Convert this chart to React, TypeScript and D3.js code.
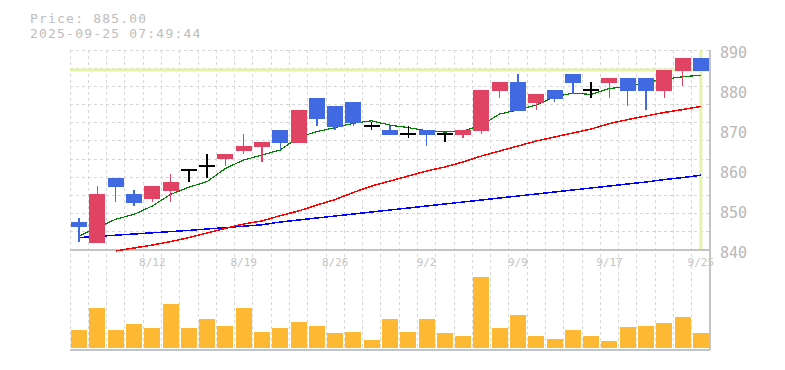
import React from "react";
import * as d3 from "d3";

const dates = ["8/5","8/6","8/7","8/8","8/12","8/13","8/14","8/15","8/18","8/19","8/20","8/21","8/22","8/25","8/26","8/27","8/28","8/29","9/1","9/2","9/3","9/4","9/5","9/8","9/9","9/10","9/11","9/12","9/16","9/17","9/18","9/19","9/22","9/24","9/25"];
const tickDates = ["8/12","8/19","8/26","9/2","9/9","9/17","9/25"];
const priceTicks = [840, 850, 860, 870, 880, 890];

const opens  = [847,842,858,854,853,855,860,861,863,865,866,870,867,878,876,877,871,870,869,870,869,869,870,880,882,877,880,884,880,882,883,883,880,885,888];
const highs  = [848,856,858,855,856,859,860,864,864,869,867,870,875,878,876,877,872,871,871,870,869,870,880,882,884,879,880,884,882,883,883,883,885,888,888];
const lows   = [842,842,852,851,852,852,857,858,861,864,862,865,867,871,870,871,870,869,868,866,867,868,869,878,875,875,877,879,878,878,876,875,878,881,885];
const closes = [846,854,856,852,856,857,860,861,864,866,867,867,875,873,871,872,871,869,869,869,869,870,880,882,875,879,878,882,880,883,880,880,885,888,885];

const ma5  = [843.5,845.6,847.7,848.9,851,853.9,855.7,857.1,860.4,862.5,863.75,865,868.2,869.6,870.6,871.7,872.3,871.2,870.6,869.8,869.5,869.7,871.2,874,875,876.25,878.3,879.2,878.9,880.4,880.8,881.9,882.7,883.3,883.7];
const ma25 = [null,null,839.75,840.5,841.25,842.1,843.1,844.25,845.4,846.5,847.25,848.6,849.75,851.25,852.6,854.4,856,857.25,858.5,859.75,860.75,862,863.5,864.75,866,867.25,868.25,869.25,870.25,871.6,872.6,873.5,874.4,875.1,875.9];
const ma75 = [843.1,843.4,843.7,844,844.3,844.6,844.9,845.25,845.6,845.95,846.3,847,847.5,848,848.5,849,849.5,850,850.5,851,851.5,852,852.5,853,853.5,854,854.5,855,855.5,856,856.5,857,857.6,858.1,858.7];

const volumes = [18,40,18,24.3,20,44,20,29,22,40,16,20,26,22,15,16,8,29,16,29,15,12,71.3,20,33,12,9,18,12,7,21,22,25,31,15];

const lastPrice = 885.0;
const timestamp = "2025-09-25 07:49:44";

const W = 785, H = 370;
const L = 70, R = 710, PT = 50, PB = 250, VB = 348, VT = 268, VAX = 350;

export default function App() {
  const x = d3.scaleBand<string>().domain(dates).range([L, R]).paddingInner(0.125).paddingOuter(0.0625);
  const xc = (d: string) => (x(d) as number) + x.bandwidth() / 2;
  const y = d3.scaleLinear().domain([840, 890]).range([PB, PT]);
  const v = d3.scaleLinear().domain([0, 80]).range([VB, VT]);
  const step = (R - L) / dates.length;
  const bw = x.bandwidth();

  const gridX = d3.range(dates.length + 1).map((i) => L + i * step);
  const gridY = d3.range(12).map((i) => PT + (i * (PB - PT)) / 11);

  const mkLine = (arr: (number | null)[]) =>
    d3.line<number | null>()
      .defined((d) => d != null)
      .x((_, i) => xc(dates[i]))
      .y((d) => y(d as number))(arr) || "";

  const red = "#e04462";
  const blue = "#4169e1";
  const mono = "'DejaVu Sans Mono', monospace";

  return (
    <svg width={W} height={H} style={{ position: "absolute", left: 0, top: 0, background: "#fff" }}>
      <text x={30} y={22.7} fill="#bdbdbd" fontFamily={mono} fontSize={13} letterSpacing={1.2}>
        {`Price: ${lastPrice.toFixed(2)}`}
      </text>
      <text x={30} y={37.7} fill="#bdbdbd" fontFamily={mono} fontSize={13} letterSpacing={1.2}>
        {timestamp}
      </text>

      {/* grid */}
      <g stroke="#d6d6d6" strokeWidth={1} strokeDasharray="3,3" shapeRendering="crispEdges">
        {gridX.map((gx, i) => (
          <line key={"gx" + i} x1={gx} x2={gx} y1={PT} y2={VAX} />
        ))}
        {gridY.map((gy, i) => (
          <line key={"gy" + i} x1={L} x2={R} y1={gy} y2={gy} />
        ))}
      </g>

      {/* last price markers */}
      <line x1={L} x2={R} y1={y(lastPrice)} y2={y(lastPrice)} stroke="#e2f4aa" strokeWidth={3} />
      <line x1={xc(dates[dates.length - 1])} x2={xc(dates[dates.length - 1])} y1={PT} y2={PB - 1} stroke="#e2f4aa" strokeWidth={3} />

      {/* axes */}
      <g stroke="#c4c4c4" strokeWidth={1.5} shapeRendering="crispEdges">
        <line x1={L} x2={R} y1={PB} y2={PB} />
        <line x1={L} x2={R} y1={VAX} y2={VAX} />
        <line x1={R} x2={R} y1={PT} y2={VAX} />
      </g>

      {/* MA lines */}
      <path d={mkLine(ma75)} fill="none" stroke="#0000ff" strokeWidth={1.5} shapeRendering="crispEdges" />
      <path d={mkLine(ma25)} fill="none" stroke="#ff0000" strokeWidth={1.5} shapeRendering="crispEdges" />
      <path d={mkLine(ma5)} fill="none" stroke="#008000" strokeWidth={1.2} shapeRendering="crispEdges" />

      {/* candles */}
      {dates.map((d, i) => {
        const o = opens[i], c = closes[i], h = highs[i], l = lows[i];
        const cx = xc(d);
        const x0 = x(d) as number;
        if (o === c) {
          return (
            <g key={d} stroke="#000" strokeWidth={1.5} shapeRendering="crispEdges">
              <line x1={cx} x2={cx} y1={y(h)} y2={y(l)} />
              <line x1={x0} x2={x0 + bw} y1={y(o)} y2={y(o)} />
            </g>
          );
        }
        const col = c > o ? red : blue;
        const top = y(Math.max(o, c));
        const bot = y(Math.min(o, c));
        return (
          <g key={d} shapeRendering="crispEdges">
            <line x1={cx} x2={cx} y1={y(h)} y2={y(l)} stroke={col} strokeWidth={1.5} />
            <rect x={x0} y={top} width={bw} height={bot - top + 1} fill={col} />
          </g>
        );
      })}

      {/* volume */}
      {dates.map((d, i) => (
        <rect key={"v" + d} x={x(d) as number} y={v(volumes[i])} width={bw} height={VB - v(volumes[i])} fill="#fdb834" shapeRendering="crispEdges" />
      ))}

      {/* labels */}
      {priceTicks.map((t) => (
        <text key={"pt" + t} x={720} y={y(t) + 8.3} fill="#b8b8b8" fontFamily={mono} fontSize={15}>
          {t}
        </text>
      ))}
      {tickDates.map((t) => (
        <text key={"dt" + t} x={xc(t)} y={266} fill="#c4c4c4" fontFamily={mono} fontSize={11} textAnchor="middle">
          {t}
        </text>
      ))}
    </svg>
  );
}
